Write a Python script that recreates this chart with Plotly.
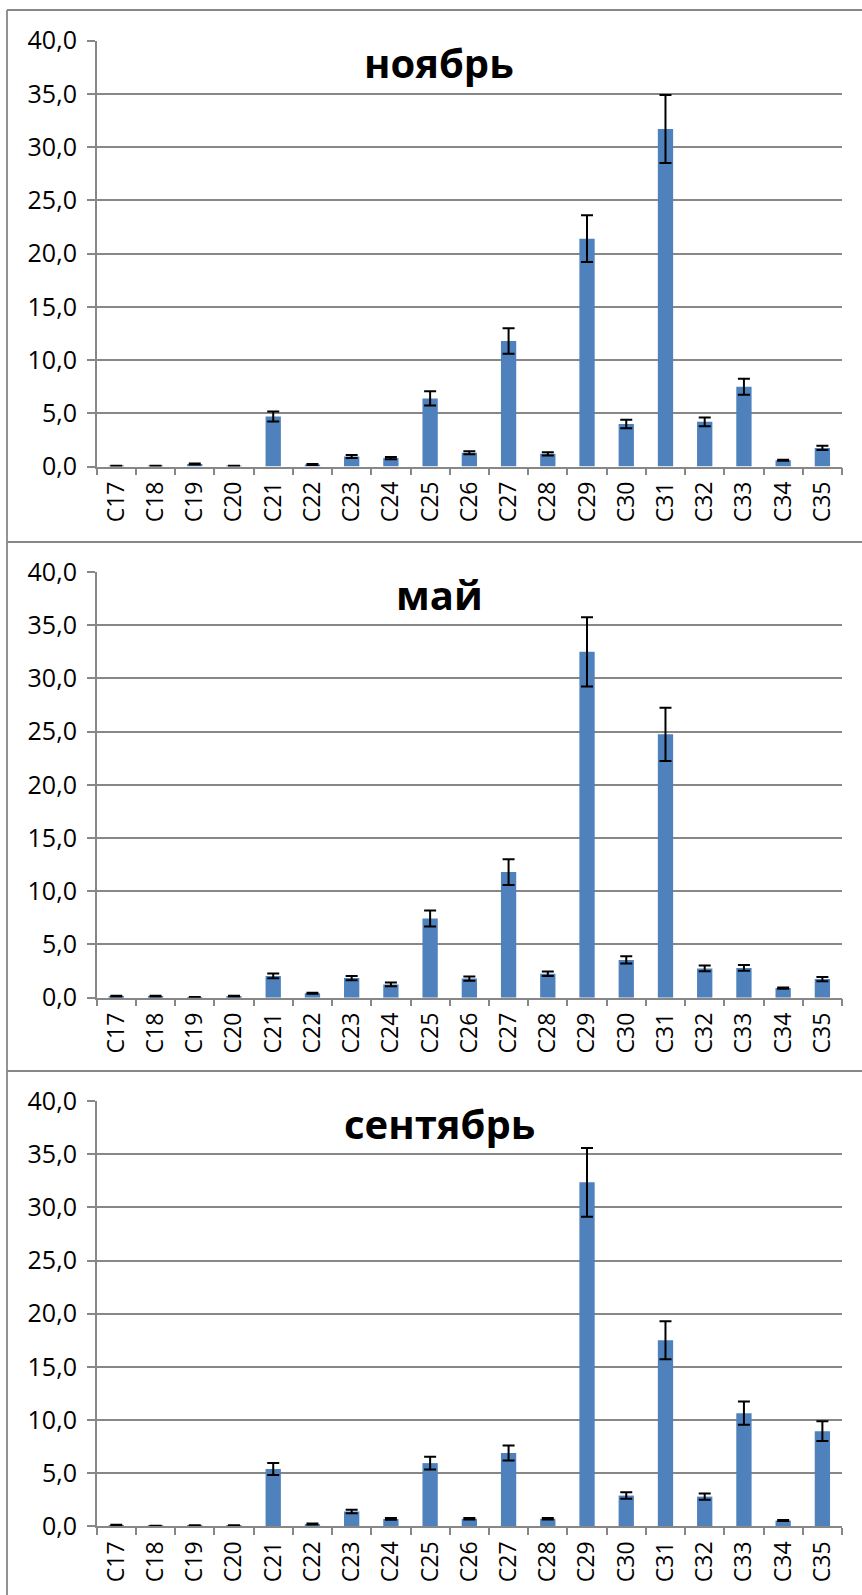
import plotly.graph_objects as go

W, H = 862, 1595

categories = ["C17", "C18", "C19", "C20", "C21", "C22", "C23", "C24", "C25", "C26",
              "C27", "C28", "C29", "C30", "C31", "C32", "C33", "C34", "C35"]

titles = ["ноябрь", "май", "сентябрь"]

nov_vals = [0.05, 0.05, 0.25, 0.05, 4.7, 0.2, 0.95, 0.8, 6.4, 1.3, 11.8, 1.2, 21.4, 4.0, 31.7, 4.2, 7.5, 0.6, 1.75]
nov_err = [0.02, 0.02, 0.05, 0.02, 0.47, 0.05, 0.15, 0.1, 0.67, 0.15, 1.2, 0.15, 2.2, 0.4, 3.2, 0.42, 0.76, 0.05, 0.2]

may_vals = [0.15, 0.15, 0.05, 0.15, 2.05, 0.42, 1.85, 1.25, 7.45, 1.8, 11.8, 2.25, 32.5, 3.55, 24.75, 2.75, 2.8, 0.9, 1.75]
may_err = [0.03, 0.03, 0.02, 0.03, 0.22, 0.05, 0.2, 0.18, 0.75, 0.2, 1.2, 0.22, 3.25, 0.34, 2.5, 0.27, 0.27, 0.05, 0.2]

sep_vals = [0.12, 0.05, 0.08, 0.08, 5.4, 0.22, 1.4, 0.7, 5.95, 0.72, 6.9, 0.72, 32.35, 2.9, 17.5, 2.8, 10.65, 0.55, 8.95]
sep_err = [0.03, 0.02, 0.02, 0.02, 0.56, 0.05, 0.17, 0.08, 0.6, 0.06, 0.7, 0.06, 3.24, 0.3, 1.78, 0.3, 1.09, 0.05, 0.93]

y_ticks = [0, 5, 10, 15, 20, 25, 30, 35, 40]

series = [(nov_vals, nov_err), (may_vals, may_err), (sep_vals, sep_err)]

# pixel layout (top, bottom of plot area) per panel
plot_px = [(40.6, 466.6), (572.0, 997.7), (1101.0, 1526.4)]
panel_tops = [10, 542, 1071]
x_left, x_right = 96.7, 842.0

BAR = "#4F81BD"
GRID = "#878787"
FONT = "Open Sans"

fig = go.Figure()
layout = dict(
    template="none",
    width=W, height=H,
    margin=dict(l=0, r=0, t=0, b=0, pad=0, autoexpand=False),
    paper_bgcolor="white", plot_bgcolor="white",
    showlegend=False,
    separators=", ",
    bargap=0.61,
    font=dict(family=FONT, color="black", size=22),
    annotations=[], shapes=[],
)

for i, ((vals, errs), (top, bot)) in enumerate(zip(series, plot_px)):
    n = "" if i == 0 else str(i + 1)
    fig.add_trace(go.Bar(
        x=categories, y=vals,
        marker=dict(color=BAR, line=dict(width=0)),
        error_y=dict(type="data", array=errs, color="black", thickness=2, width=6),
        xaxis="x" + n, yaxis="y" + n,
    ))
    layout["xaxis" + n] = dict(
        domain=[x_left / W, x_right / W],
        anchor="y" + n,
        type="category",
        automargin=False,
        showline=True, linecolor=GRID, linewidth=1.5,
        ticks="outside", tickson="boundaries", ticklen=7, tickcolor=GRID, tickwidth=1.5,
        tickangle=-90, tickfont=dict(family=FONT, size=23, color="black"),
        ticklabelstandoff=4,
        showgrid=False, zeroline=False, fixedrange=True,
    )
    layout["yaxis" + n] = dict(
        domain=[1 - bot / H, 1 - top / H],
        anchor="x" + n,
        automargin=False,
        range=[0, 40],
        tickvals=y_ticks, tickformat=".1f",
        showline=True, linecolor=GRID, linewidth=1.5,
        ticks="outside", ticklen=8, tickcolor=GRID, tickwidth=1.5,
        tickfont=dict(family=FONT, size=25, color="black"),
        ticklabelstandoff=5,
        showgrid=True, gridcolor=GRID, gridwidth=1.5,
        zeroline=False, fixedrange=True,
    )
    layout["annotations"].append(dict(
        text="<b>" + titles[i] + "</b>",
        x=439 / W, xref="paper", xanchor="center",
        y=1 - (top + 22) / H, yref="paper", yanchor="middle",
        showarrow=False,
        font=dict(family=FONT, size=40, color="black"),
    ))
    layout["shapes"].append(dict(
        type="line", xref="paper", yref="paper",
        x0=7 / W, x1=1.02, y0=1 - panel_tops[i] / H, y1=1 - panel_tops[i] / H,
        line=dict(color=GRID, width=1.8),
    ))

layout["shapes"].append(dict(
    type="line", xref="paper", yref="paper",
    x0=7 / W, x1=7 / W, y0=1 - 10 / H, y1=-0.02,
    line=dict(color=GRID, width=1.8),
))

fig.update_layout(**layout)

post = (
    "document.documentElement.style.margin='0';"
    "document.body.style.margin='0';"
    "document.documentElement.style.overflow='hidden';"
    "document.body.style.overflow='hidden';"
    "var gd=document.getElementById('{plot_id}');"
    "gd.style.position='absolute';gd.style.left='0px';gd.style.top='0px';"
)
fig.write_html("out.html", config={"displayModeBar": False}, post_script=post)
